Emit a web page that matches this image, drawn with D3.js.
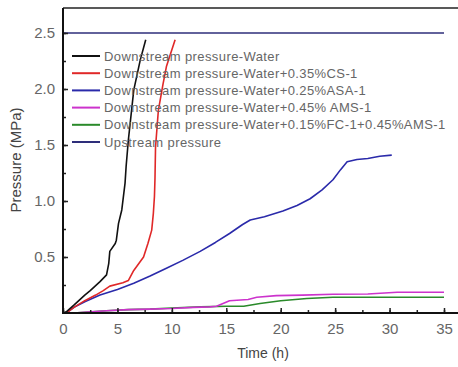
<!DOCTYPE html>
<html>
<head>
<meta charset="utf-8">
<script src="https://cdn.jsdelivr.net/npm/d3@7"></script>
<style>
  body { margin: 0; background: #fff; }
  svg { display: block; font-family: Arial, "Liberation Sans", sans-serif; }
</style>
</head>
<body>
<div class="d3"></div>
<script>
// series: time (h) and pressure (MPa)
const waterT = [0, 0.3, 1, 2, 2.5, 3.4, 4.0, 4.2, 4.3, 4.8, 4.9, 5.1, 5.4, 5.7, 5.8, 6.0, 6.5, 7.1, 7.6];
const waterP = [0, 0.01, 0.07, 0.16, 0.2, 0.28, 0.34, 0.44, 0.55, 0.62, 0.65, 0.80, 0.92, 1.16, 1.31, 1.54, 1.99, 2.26, 2.44];

const csT = [0, 0.3, 1, 2, 3, 3.7, 4.3, 5.5, 6.0, 6.5, 7.4, 7.8, 8.15, 8.3, 8.4, 8.45, 8.5, 8.76, 9.2, 9.5, 10.0, 10.3];
const csP = [0, 0, 0.05, 0.11, 0.16, 0.2, 0.24, 0.27, 0.29, 0.38, 0.5, 0.62, 0.74, 0.89, 1.04, 1.2, 1.48, 1.81, 2.05, 2.2, 2.35, 2.44];

const asaT = [0, 0.3, 1, 2, 3.4, 5, 6.5, 8, 9.5, 11, 12.6, 14, 15.3, 16.5, 17.2, 18.5, 20.2, 21.5, 22.7, 23.8, 24.8, 25.5, 26.1, 27.0, 28, 29.1, 30.2];
const asaP = [0, 0, 0.05, 0.1, 0.16, 0.21, 0.265, 0.33, 0.40, 0.47, 0.55, 0.63, 0.71, 0.79, 0.83, 0.86, 0.91, 0.96, 1.02, 1.1, 1.19, 1.28, 1.35, 1.37, 1.38, 1.40, 1.41];

const amsT = [0, 1, 4, 6, 8, 10, 12, 13.5, 14.1, 15.3, 17, 17.8, 19.6, 22, 24.8, 28, 30.7, 35];
const amsP = [0, 0, 0.02, 0.03, 0.035, 0.04, 0.05, 0.055, 0.06, 0.11, 0.12, 0.14, 0.155, 0.16, 0.167, 0.17, 0.185, 0.185];

const fcT = [0, 1, 4, 6, 8, 10, 12.6, 15, 16.6, 18.1, 20.0, 22.4, 24.8, 30, 35];
const fcP = [0, 0, 0.02, 0.03, 0.035, 0.045, 0.055, 0.06, 0.06, 0.085, 0.11, 0.13, 0.14, 0.14, 0.14];

const upT = [0, 35];
const upP = [2.5, 2.5];

const labels = [
  'Downstream pressure-Water',
  'Downstream pressure-Water+0.35%CS-1',
  'Downstream pressure-Water+0.25%ASA-1',
  'Downstream pressure-Water+0.45% AMS-1',
  'Downstream pressure-Water+0.15%FC-1+0.45%AMS-1',
  'Upstream pressure'
];
const colors = ['#111111', '#e02828', '#2a2aaa', '#cc33cc', '#2a8a2a', '#2e2e7a'];

const xTicks = [0, 5, 10, 15, 20, 25, 30, 35];
const yTicks = [0.5, 1.0, 1.5, 2.0, 2.5];

const width = 458;
const height = 367;

let svg = d3.select('.d3')
  .append('svg')
  .attr('width', width)
  .attr('height', height);

let x = d3.scaleLinear().domain([0, 35]).range([63, 444]);
let y = d3.scaleLinear().domain([0, 2.5]).range([313, 33]);

let plotTop = 8;

// frame top line (right edge falls off the picture)
svg.append('line')
  .attr('x1', 63).attr('x2', width + 2)
  .attr('y1', plotTop).attr('y2', plotTop)
  .attr('stroke', '#222').attr('stroke-width', 1.5);

let series = [
  [waterT, waterP],
  [csT, csP],
  [asaT, asaP],
  [amsT, amsP],
  [fcT, fcP],
  [upT, upP]
];

let line = d3.line()
  .x(d => x(d[0]))
  .y(d => y(d[1]));

// draw lower curves first so the steep ones sit on top
let order = [5, 4, 3, 2, 1, 0];
order.forEach(i => {
  let pts = d3.zip(series[i][0], series[i][1]);
  svg.append('path')
    .attr('d', line(pts))
    .attr('fill', 'none')
    .attr('stroke', colors[i])
    .attr('stroke-width', 1.6)
    .attr('stroke-linejoin', 'round');
});

// axes: ticks point inward
let minorX = d3.range(0, 36, 2.5);
let minorY = d3.range(0.25, 2.6, 0.25);

svg.append('g')
  .attr('transform', 'translate(0,313)')
  .call(d3.axisBottom(x).tickValues(minorX).tickSize(-3).tickFormat(''))
  .call(g => g.select('.domain').remove())
  .call(g => g.selectAll('line').attr('stroke', '#222').attr('stroke-width', 1.5));

svg.append('g')
  .attr('transform', 'translate(0,313)')
  .call(d3.axisBottom(x).tickValues(xTicks).tickSize(-5).tickPadding(10).tickFormat(d3.format('d')))
  .call(g => g.select('.domain').remove())
  .call(g => g.selectAll('line').attr('stroke', '#222').attr('stroke-width', 1.5))
  .call(g => g.selectAll('text').attr('fill', '#666').attr('font-size', 15).attr('font-family', 'Arial, "Liberation Sans", sans-serif'));

svg.append('g')
  .attr('transform', 'translate(63,0)')
  .call(d3.axisLeft(y).tickValues(minorY).tickSize(-3).tickFormat(''))
  .call(g => g.select('.domain').remove())
  .call(g => g.selectAll('line').attr('stroke', '#222').attr('stroke-width', 1.5));

svg.append('g')
  .attr('transform', 'translate(63,0)')
  .call(d3.axisLeft(y).tickValues(yTicks).tickSize(-5).tickPadding(8).tickFormat(d3.format('.1f')))
  .call(g => g.select('.domain').remove())
  .call(g => g.selectAll('line').attr('stroke', '#222').attr('stroke-width', 1.5))
  .call(g => g.selectAll('text').attr('fill', '#666').attr('font-size', 15).attr('font-family', 'Arial, "Liberation Sans", sans-serif'));

// thick axis lines
svg.append('line')
  .attr('x1', 63).attr('x2', 63)
  .attr('y1', plotTop).attr('y2', 314)
  .attr('stroke', '#111').attr('stroke-width', 2);
svg.append('line')
  .attr('x1', 62).attr('x2', width + 2)
  .attr('y1', 313).attr('y2', 313)
  .attr('stroke', '#111').attr('stroke-width', 2.2);

// axis titles
svg.append('text')
  .attr('x', 263).attr('y', 358)
  .attr('text-anchor', 'middle')
  .attr('font-size', 14)
  .attr('fill', '#444')
  .text('Time (h)');

svg.append('text')
  .attr('transform', 'translate(21,' + 160 + ') rotate(-90)')
  .attr('text-anchor', 'middle')
  .attr('font-size', 15)
  .attr('fill', '#444')
  .text('Pressure (MPa)');

// legend
let legend = svg.append('g');
let rowY = d3.scaleLinear().domain([0, 5]).range([56, 142]);

labels.forEach((label, i) => {
  legend.append('line')
    .attr('x1', 72).attr('x2', 100)
    .attr('y1', rowY(i)).attr('y2', rowY(i))
    .attr('stroke', colors[i])
    .attr('stroke-width', 2);
  legend.append('text')
    .attr('x', 104).attr('y', rowY(i))
    .attr('dy', '0.35em')
    .attr('font-size', 13)
    .attr('letter-spacing', 0.4)
    .attr('fill', '#666')
    .text(label);
});
</script>
</body>
</html>
